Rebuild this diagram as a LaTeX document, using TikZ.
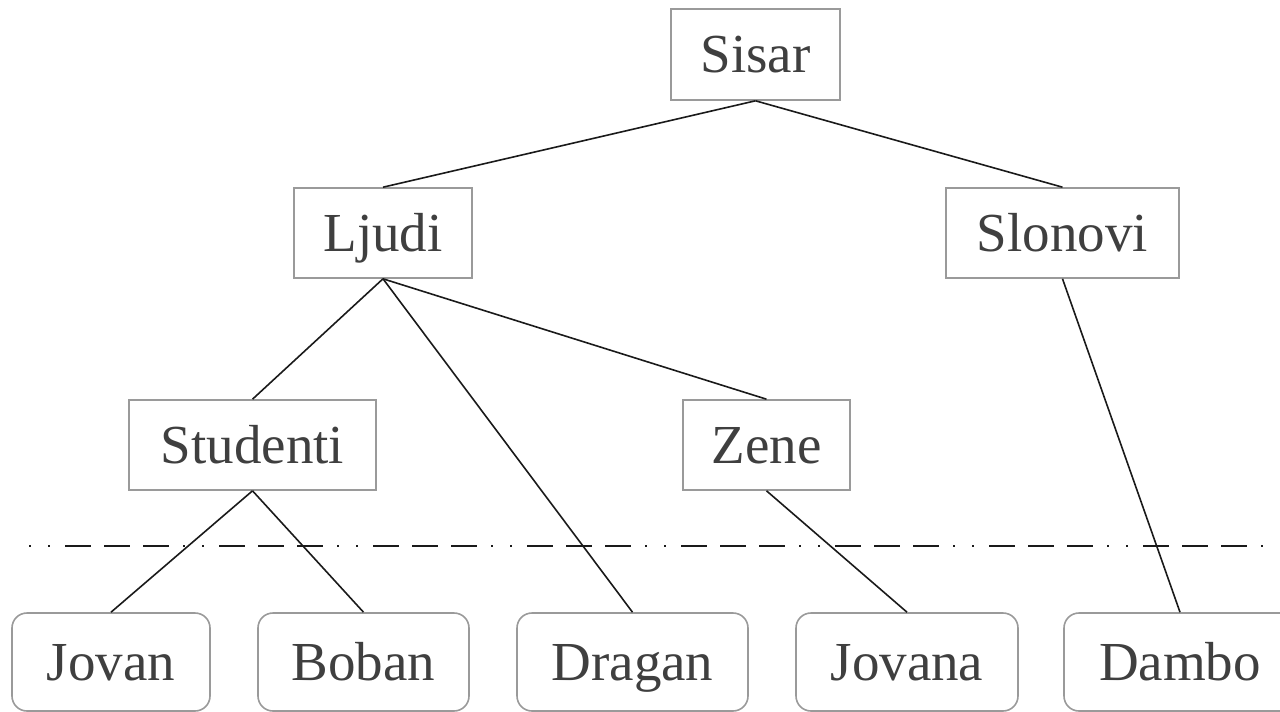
\documentclass[tikz,border=0pt]{standalone}
\usepackage{fontspec}
\setmainfont{Liberation Serif}
\definecolor{boxgray}{HTML}{9A9A9A}
\definecolor{txtgray}{HTML}{3F3F3F}
\definecolor{linegray}{HTML}{1A1A1A}
\begin{document}
\begin{tikzpicture}[x=1pt,y=-1pt,
  catbox/.style={draw=boxgray,line width=1.6pt,inner sep=0pt,
    text=txtgray,font=\fontsize{55}{60}\selectfont,text height=36pt,text depth=0pt},
  leafbox/.style={catbox,rounded corners=15pt,minimum height=98pt},
  link/.style={draw=linegray,line width=1.6pt},
  cutline/.style={draw=linegray,line width=1.8pt,
    dash pattern=on 2pt off 17pt on 2pt off 15pt on 26pt off 13pt on 26pt off 13pt on 26pt off 14pt}]
\useasboundingbox (0,0) rectangle (1280,712);
\node[catbox,minimum width=169pt,minimum height=91pt] (sisar) at (755.5,54.5) {Sisar};
\node[catbox,minimum width=178pt,minimum height=90pt] (ljudi) at (383,233) {Ljudi};
\node[catbox,minimum width=233pt,minimum height=90pt] (slonovi) at (1062.5,233) {Slonovi};
\node[catbox,minimum width=247pt,minimum height=90pt] (studenti) at (252.5,445) {Studenti};
\node[catbox,minimum width=167pt,minimum height=90pt] (zene) at (766.5,445) {Zene};
\node[leafbox,minimum width=198pt] (jovan) at (111,662) {Jovan};
\node[leafbox,minimum width=211pt] (boban) at (363.5,662) {Boban};
\node[leafbox,minimum width=231pt] (dragan) at (632.5,662) {Dragan};
\node[leafbox,minimum width=222pt] (jovana) at (907,662) {Jovana};
\node[leafbox,minimum width=232pt] (dambo) at (1180,662) {Dambo};
\coordinate (cutL) at (29,546);
\coordinate (cutR) at (1282,546);
\draw[cutline] (cutL) -- (cutR);
\draw[link] (sisar.south) -- (ljudi.north);
\draw[link] (sisar.south) -- (slonovi.north);
\draw[link] (ljudi.south) -- (studenti.north);
\draw[link] (ljudi.south) -- (dragan.north);
\draw[link] (ljudi.south) -- (zene.north);
\draw[link] (studenti.south) -- (jovan.north);
\draw[link] (studenti.south) -- (boban.north);
\draw[link] (zene.south) -- (jovana.north);
\draw[link] (slonovi.south) -- (dambo.north);
\end{tikzpicture}
\end{document}
